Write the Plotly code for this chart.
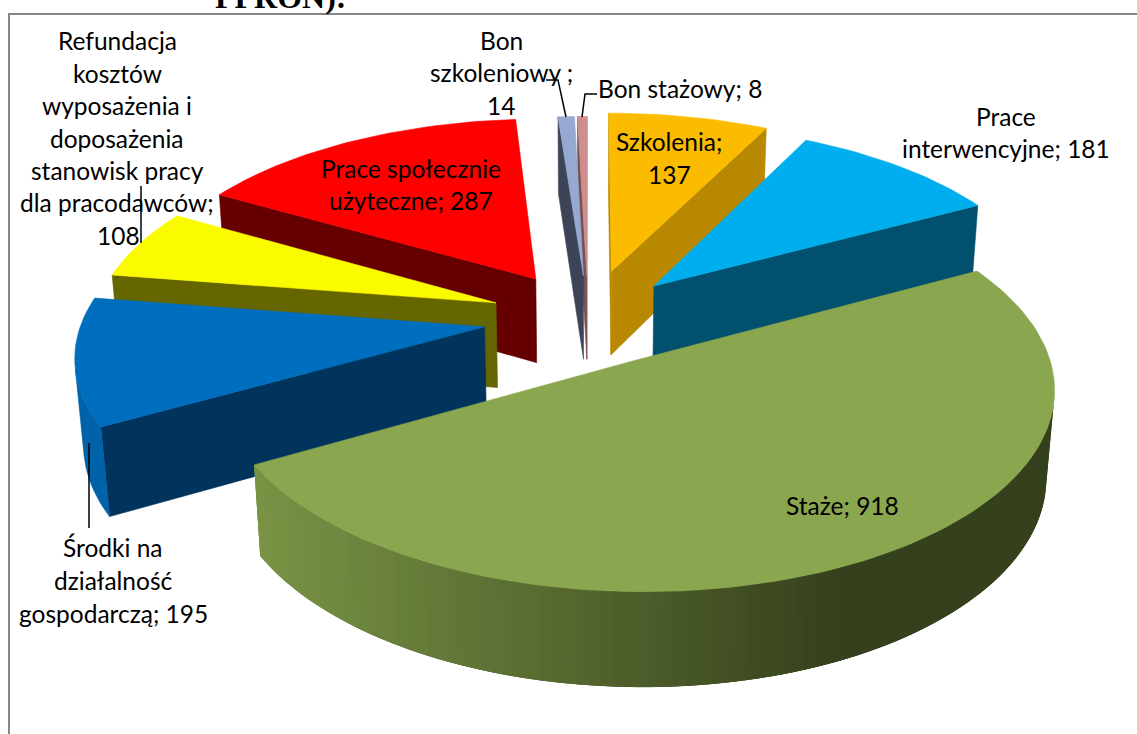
import math
import plotly.graph_objects as go

categories = ["Szkolenia", "Prace interwencyjne", "Staże", "Środki na działalność gospodarczą",
              "Refundacja kosztów wyposażenia i doposażenia stanowisk pracy dla pracodawców",
              "Prace społecznie użyteczne", "Bon szkoleniowy", "Bon stażowy"]
values = [137, 181, 918, 195, 108, 287, 14, 8]
top_colors = ["#FBBC00", "#00AEEF", "#8AA64E", "#006EBE", "#FAFA00", "#FF0000", "#95A9D1", "#CF8E8E"]
wall_colors = ["#B88800", "#00506E", "#35401C", "#00345C", "#666600", "#660000", "#3D4458", "#7A5050"]
arc_colors = ["#B88800", "#00506E", None, "#0062A8", "#666600", "#660000", "#3D4458", "#7A5050"]
explode = [0.26, 0.24, 0.245, 0.26, 0.245, 0.25, 0.23, 0.23]
draw_order = [7, 6, 0, 5, 1, 4, 3, 2]

FIRST_ANGLE = 0.0
ELEV = math.radians(28.2)
DIST = 6.83
FOCAL = 2745
CX, CY = 588, 318
HEIGHT = 0.245


def project(x, y, z):
    up = y * math.sin(ELEV) + z * math.cos(ELEV)
    depth = DIST + y * math.cos(ELEV) - z * math.sin(ELEV)
    return CX + FOCAL * x / depth, CY - FOCAL * up / depth


def area(poly):
    s = 0
    for i in range(len(poly)):
        a, b = poly[i], poly[(i + 1) % len(poly)]
        s += a[0] * b[1] - b[0] * a[1]
    return s / 2


def lerp_hex(c1, c2, t):
    a = [int(c1[i:i + 2], 16) for i in (1, 3, 5)]
    b = [int(c2[i:i + 2], 16) for i in (1, 3, 5)]
    return "#%02x%02x%02x" % tuple(round(p + (q - p) * t) for p, q in zip(a, b))


fig = go.Figure()


def poly_trace(poly, color, width=0.6):
    xs = [p[0] for p in poly] + [poly[0][0]]
    ys = [p[1] for p in poly] + [poly[0][1]]
    fig.add_trace(go.Scatter(x=xs, y=ys, mode="lines", fill="toself", fillcolor=color,
                             line=dict(color=color, width=width), hoverinfo="skip", showlegend=False))


total = sum(values)
starts = []
acc = FIRST_ANGLE
for v in values:
    starts.append(acc)
    acc += v / total * 360

for i in draw_order:
    a0 = starts[i]
    sweep = values[i] / total * 360
    mid = math.radians(a0 + sweep / 2)
    ex, ey = explode[i] * math.sin(mid), explode[i] * math.cos(mid)
    n = max(3, int(sweep / 1.5))
    rim = []
    for k in range(n + 1):
        t = math.radians(a0 + sweep * k / n)
        rim.append((ex + math.sin(t), ey + math.cos(t)))
    apex = (ex, ey)
    top = [project(apex[0], apex[1], 0)] + [project(p[0], p[1], 0) for p in rim]
    sign = 1 if area(top) > 0 else -1

    # radial walls, only when they face the viewer
    for p, q in ((apex, rim[0]), (rim[-1], apex)):
        quad = [project(p[0], p[1], 0), project(q[0], q[1], 0), project(q[0], q[1], -HEIGHT), project(p[0], p[1], -HEIGHT)]
        if area(quad) * sign < 0:
            poly_trace(quad, wall_colors[i])
    # outer wall
    visible = []
    for k in range(n):
        p, q = rim[k], rim[k + 1]
        quad = [project(p[0], p[1], 0), project(q[0], q[1], 0), project(q[0], q[1], -HEIGHT), project(p[0], p[1], -HEIGHT)]
        if area(quad) * sign < 0:
            visible.append(k)
    if arc_colors[i] is None:
        # gradient: overlapping bands, so no seams show
        for pos, k in enumerate(visible):
            k2 = visible[min(pos + 2, len(visible) - 1)] + 1
            band_top = [project(*rim[j], 0) for j in range(k, k2 + 1)]
            band_bot = [project(*rim[j], -HEIGHT) for j in range(k2, k - 1, -1)]
            tx = (band_top[0][0] - 252) / (850 - 252)
            t_col = min(1, max(0, tx))
            poly_trace(band_top + band_bot, lerp_hex("#7A9445", "#35401C", t_col), width=0)
    elif visible:
        arc_top = [project(*rim[j], 0) for j in range(visible[0], visible[-1] + 2)]
        arc_bot = [project(*rim[j], -HEIGHT) for j in range(visible[-1] + 1, visible[0] - 1, -1)]
        poly_trace(arc_top + arc_bot, arc_colors[i])
    poly_trace(top, top_colors[i])

leaders = [
    ([141, 141], [186, 243]),
    ([89, 89], [443, 528]),
    ([546, 558, 566], [80, 80, 117]),
    ([597, 585, 582], [94, 94, 117]),
]
for lx, ly in leaders:
    fig.add_trace(go.Scatter(x=lx, y=ly, mode="lines", line=dict(color="#000000", width=1.5),
                             hoverinfo="skip", showlegend=False))

frame_x = [9, 9, 1137]
frame_y = [734, 14, 14]
fig.add_trace(go.Scatter(x=frame_x, y=frame_y, mode="lines", line=dict(color="#868686", width=2),
                         hoverinfo="skip", showlegend=False))

label_lines = [
    ("Refundacja", 117, 40), ("kosztów", 117, 73), ("wyposażenia i", 117, 105), ("doposażenia", 117, 138),
    ("stanowisk pracy", 117, 170), ("dla pracodawców;", 117, 202), ("108", 118, 235),
    ("Bon", 501, 40), ("szkoleniowy ;", 501, 72), ("14", 501, 105),
    ("Bon stażowy; 8", 680, 88),
    ("Szkolenia;", 669, 141), ("137", 669, 174),
    ("Prace", 1006, 116), ("interwencyjne; 181", 1006, 148),
    ("Prace społecznie", 411, 168), ("użyteczne; 287", 411, 200),
    ("Staże; 918", 842, 505),
    ("Środki na", 113, 547), ("działalność", 113, 580), ("gospodarczą; 195", 113, 613),
]
annotations = [dict(x=x, y=y, text=t, showarrow=False, xanchor="center", yanchor="middle",
                    font=dict(family="Lato", size=24.5, color="#000000")) for t, x, y in label_lines]
annotations.append(dict(x=281, y=0, yshift=3, text="<b>PPRON):</b>", showarrow=False, xanchor="center", yanchor="middle",
                        font=dict(family="Liberation Serif", size=32, color="#000000")))

fig.update_layout(
    width=1137, height=734, margin=dict(l=0, r=0, t=0, b=0),
    paper_bgcolor="#FFFFFF", plot_bgcolor="#FFFFFF", showlegend=False,
    xaxis=dict(range=[0, 1137], visible=False, fixedrange=True),
    yaxis=dict(range=[734, 0], visible=False, fixedrange=True),
    annotations=annotations,
)
fig.write_html("out.html", config={"displayModeBar": False},
               post_script="document.body.style.margin='0';document.body.style.overflow='hidden';")
